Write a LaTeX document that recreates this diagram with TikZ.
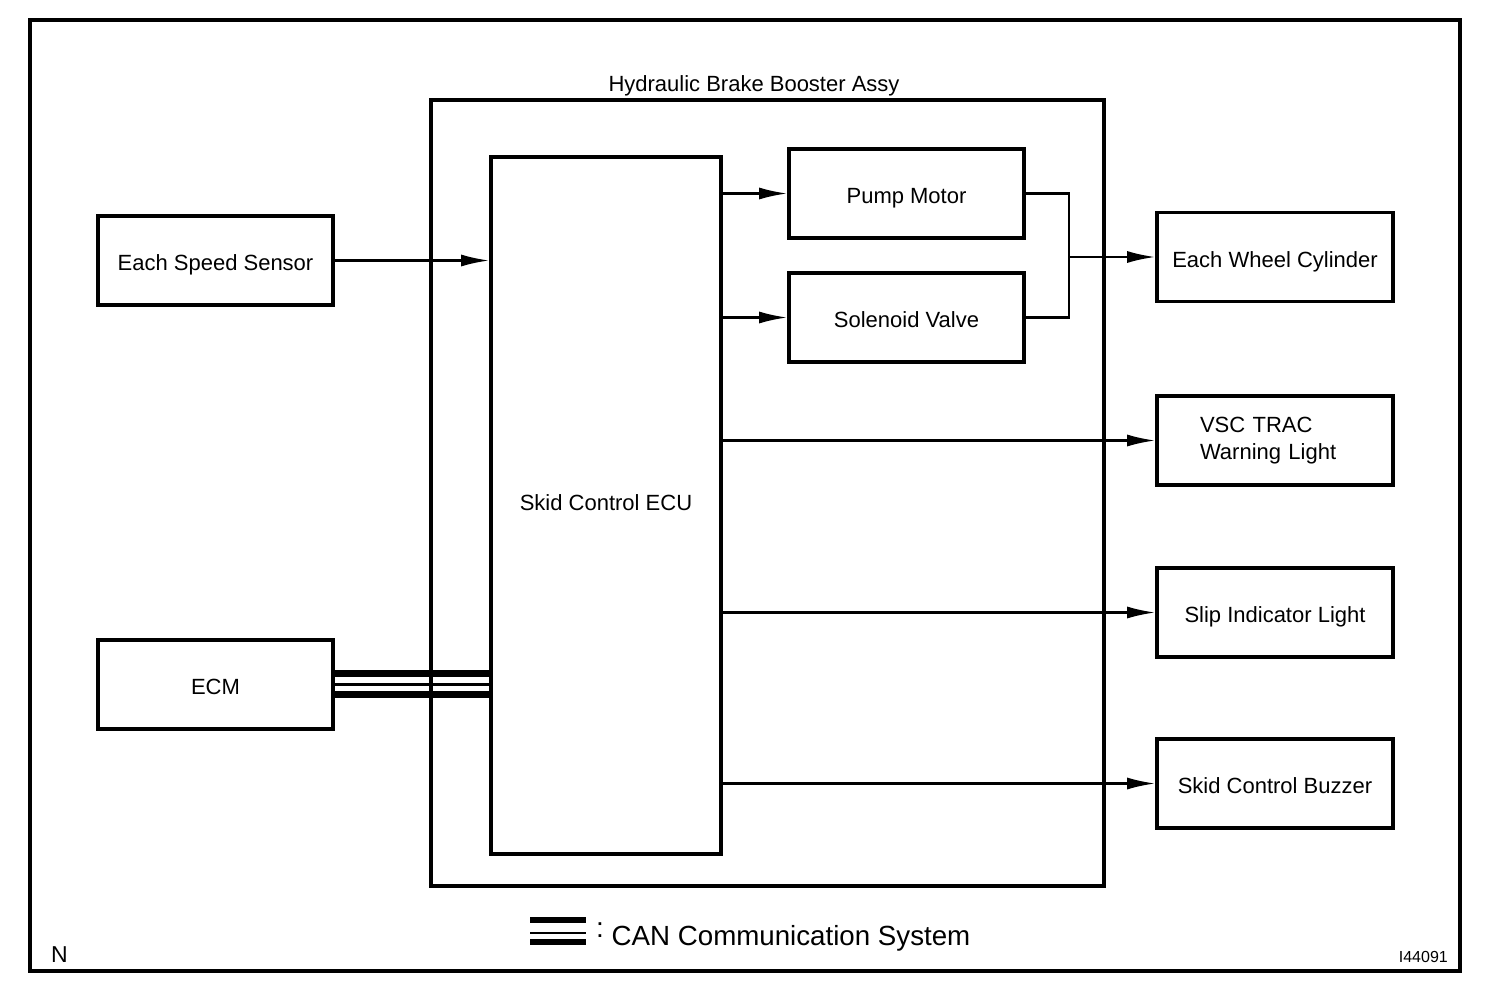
\documentclass[tikz,border=0pt]{standalone}
\usepackage{fontspec}
\setmainfont{Liberation Sans}
\usetikzlibrary{arrows.meta}
\begin{document}
\begin{tikzpicture}[x=1pt,y=-1pt,
  box/.style={draw,line width=3.6pt,minimum width=235pt,minimum height=89pt,inner sep=0pt,font=\fontsize{22}{26}\selectfont},
  sbox/.style={box,text height=20pt,text depth=0pt},
  wire/.style={line width=2.2pt},
  conn/.style={wire,-{Latex[length=28pt,width=12pt]}},
  canthick/.style={line width=7pt},
  canthin/.style={line width=3pt},
  plain/.style={inner sep=0pt}]
\useasboundingbox (0,0) rectangle (1504,998);
\draw[line width=3.5pt] (30,20) rectangle (1460,971);
% main boxes
\node[box,minimum width=673pt,minimum height=786pt] (hbb) at (767.5,493) {};
\node[plain,font=\fontsize{22}{26}\selectfont,anchor=base] (hbbl) at (754,91.5) {Hydraulic Brake Booster Assy};
\node[box,text height=20pt,text depth=10pt,minimum width=230pt,minimum height=697pt] (ecu) at (606,505.5) {Skid Control ECU};
\node[sbox] (sensor) at (215.5,260.5) {Each Speed Sensor};
\node[sbox] (ecm) at (215.5,684.5) {ECM};
\node[sbox] (pump) at (906.5,193.5) {Pump Motor};
\node[sbox] (sol) at (906.5,317.5) {Solenoid Valve};
\node[sbox,minimum width=236pt] (wheel) at (1275,257) {Each Wheel Cylinder};
\node[box,minimum width=236pt,text width=150pt,align=left,font=\fontsize{22}{27}\selectfont] (vsc) at (1275,440.5) {VSC TRAC\\Warning Light};
\node[sbox,minimum width=236pt] (slip) at (1275,612.5) {Slip Indicator Light};
\node[sbox,minimum width=236pt] (buzz) at (1275,783.5) {Skid Control Buzzer};
% connectors
\draw[conn] (sensor.east) -- (sensor.east -| ecu.west);
\draw[conn] (pump.west -| ecu.east) -- (pump.west);
\draw[conn] (sol.west -| ecu.east) -- (sol.west);
\coordinate (j) at (1069,257);
\draw[wire] (pump.east) -| (j) |- (sol.east);
\draw[conn] (j) -- (wheel.west);
\draw[conn] (vsc.west -| ecu.east) -- (vsc.west);
\draw[conn] (slip.west -| ecu.east) -- (slip.west);
\draw[conn] (buzz.west -| ecu.east) -- (buzz.west);
% CAN bus
\draw[canthick] ([yshift=11.5pt]ecm.east) -- ([yshift=11.5pt]ecm.east -| ecu.west);
\draw[canthin] (ecm.east) -- (ecm.east -| ecu.west);
\draw[canthick] ([yshift=-9.5pt]ecm.east) -- ([yshift=-9.5pt]ecm.east -| ecu.west);
% legend
\draw[line width=6pt] (530,920) -- (586,920);
\draw[line width=2.6pt] (530,933) -- (586,933);
\draw[line width=6pt] (530,942) -- (586,942);
\node[plain,anchor=base,font=\fontsize{28}{30}\selectfont] (colon) at (600,937) {:};
\node[plain,anchor=base west,font=\fontsize{27.7}{30}\selectfont] (can) at (611.5,945) {CAN Communication System};
% corner marks
\node[plain,anchor=base west,font=\fontsize{23}{25}\selectfont] (nmark) at (51,962.5) {N};
\node[plain,anchor=base east,font=\fontsize{16}{18}\selectfont] (code) at (1448,962.5) {I44091};
\end{tikzpicture}
\end{document}
